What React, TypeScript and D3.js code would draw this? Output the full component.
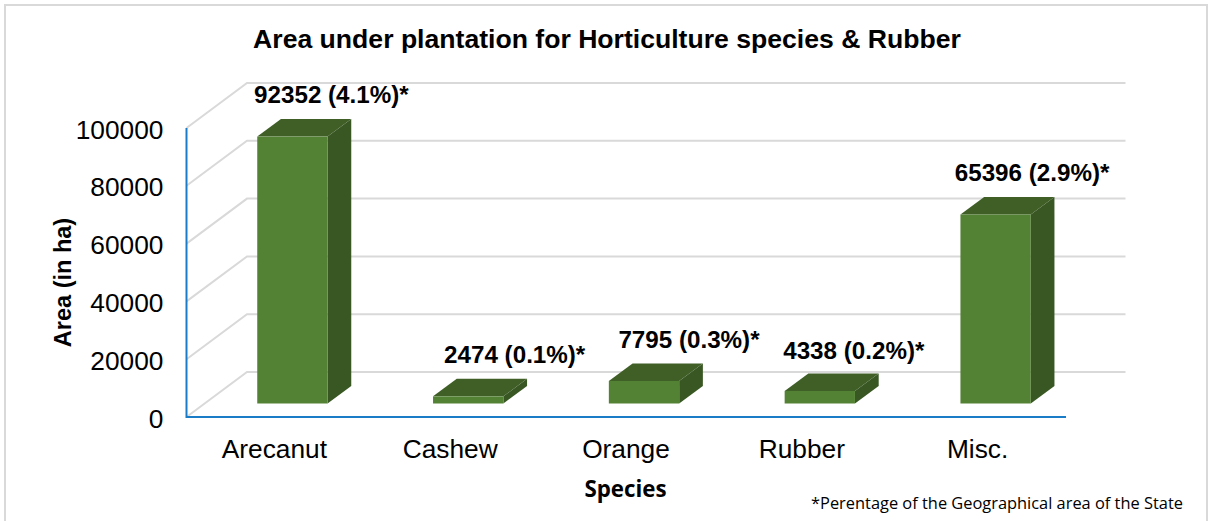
import React from "react";
import * as d3 from "d3";

const categories = ["Arecanut", "Cashew", "Orange", "Rubber", "Misc."];
const values = [92352, 2474, 7795, 4338, 65396];
const percents = ["4.1%", "0.1%", "0.3%", "0.2%", "2.9%"];
const yTicks = [0, 20000, 40000, 60000, 80000, 100000];
const labelShifts = [39, 46.5, 45, 34, 36.5];
const labelLifts = [16, 16, 15.5, 14.5, 16];

const W = 1208, H = 521;
const axisX = 186.5, axisEndX = 1066, floorY = 417, topY = 128;
const wallDx = 60.5, wallDy = 45, wallEndX = 1125.5;
const barDx = 23.7, barDy = 17.5, barBaseY = 403.5;
const SANS = "'Liberation Sans', Arial, sans-serif";
const HUM = "'Open Sans', 'Noto Sans', sans-serif";

export default function App() {
  const y = d3.scaleLinear().domain([0, 100000]).range([floorY, topY]);
  const x = d3.scaleBand<string>().domain(categories).range([204.5, 1083.5]).paddingInner(0.6).paddingOuter(0.3);
  const bw = x.bandwidth();
  const h = (v: number) => floorY - y(v);
  const pts = (p: number[][]) => p.map((q) => q.join(",")).join(" ");
  return (
    <svg width={W} height={H} viewBox={`0 0 ${W} ${H}`} style={{ position: "fixed", left: 0, top: 0, display: "block", background: "#fff" }}>
      <rect x={5} y={5} width={1202} height={530} fill="#fff" stroke="#d9d9d9" strokeWidth={2} />
      <text x={607} y={47.5} textAnchor="middle" fontFamily={SANS} fontWeight={700} fontSize={26.6} fill="#000">
        Area under plantation for Horticulture species &amp; Rubber
      </text>
      {yTicks.map((t) => (
        <polyline key={t} points={pts([[axisX, y(t)], [axisX + wallDx, y(t) - wallDy], [wallEndX, y(t) - wallDy]])} fill="none" stroke="#d9d9d9" strokeWidth={2} />
      ))}
      {yTicks.map((t) => (
        <text key={t} x={163.5} y={y(t) + 10.5} textAnchor="end" fontFamily={SANS} fontSize={26.3} fill="#000">{t}</text>
      ))}
      <path d={`M${axisX},${topY}V${floorY}H${axisEndX}`} fill="none" stroke="#1a7cc7" strokeWidth={2} />
      {categories.map((c, i) => {
        const x0 = x(c)!;
        const x1 = x0 + bw;
        const top = barBaseY - h(values[i]);
        return (
          <g key={c}>
            <polygon points={pts([[x1, top], [x1 + barDx, top - barDy], [x1 + barDx, barBaseY - barDy], [x1, barBaseY]])} fill="#385723" />
            <polygon points={pts([[x0, top], [x0 + barDx, top - barDy], [x1 + barDx, top - barDy], [x1, top]])} fill="#3f5f27" />
            <rect x={x0} y={top} width={bw} height={barBaseY - top} fill="#548235" />
            <text x={x0 + bw / 2 + labelShifts[i]} y={top - barDy - labelLifts[i]} textAnchor="middle" fontFamily={SANS} fontWeight={700} fontSize={24.2} fill="#000">
              {`${values[i]} (${percents[i]})*`}
            </text>
            <text x={x0 + bw / 2 - 18} y={458} textAnchor="middle" fontFamily={SANS} fontSize={26.3} fill="#000">{c}</text>
          </g>
        );
      })}
      <text transform="translate(71,282.5) rotate(-90)" textAnchor="middle" fontFamily={SANS} fontWeight={700} fontSize={23.5} fill="#000">Area (in ha)</text>
      <text x={625.5} y={497} textAnchor="middle" fontFamily={HUM} fontWeight={700} fontSize={22.3} fill="#000">Species</text>
      <text x={811} y={509} fontFamily={HUM} fontSize={16.4} fill="#000">*Perentage of the Geographical area of the State</text>
    </svg>
  );
}
